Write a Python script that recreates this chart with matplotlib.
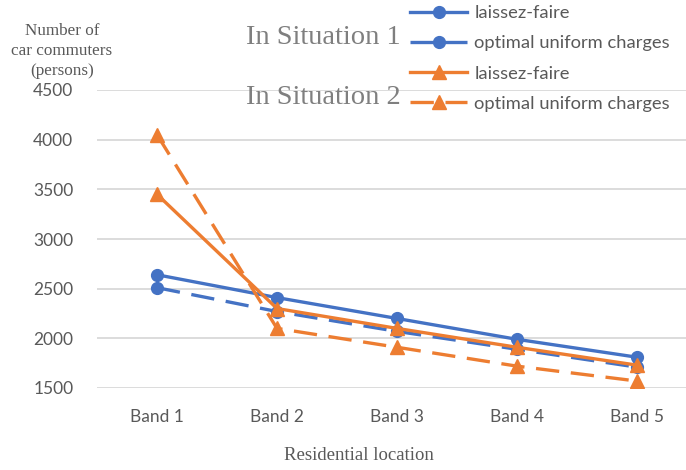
import matplotlib
matplotlib.use("Agg")
import matplotlib.pyplot as plt

# car commuters per residential band
bands = ["Band 1", "Band 2", "Band 3", "Band 4", "Band 5"]
s1_laissez = [2640, 2410, 2200, 1990, 1810]
s1_optimal = [2510, 2270, 2070, 1890, 1710]
s2_laissez = [3450, 2300, 2100, 1910, 1730]
s2_optimal = [4050, 2100, 1910, 1720, 1570]
yticks = [1500, 2000, 2500, 3000, 3500, 4000, 4500]

blue = "#4472C4"
orange = "#ED7D31"
sans = "Lato"
serif = "Liberation Serif"

fig = plt.figure(figsize=(6.86, 4.70), dpi=100)
ax = fig.add_axes([97 / 686, 1 - 388 / 470, 600 / 686, 298 / 470])

x = list(range(len(bands)))
lw = 2.4
dash = (0, (7, 3.5))
ax.plot(x, s1_laissez, color=blue, lw=lw, marker="o", ms=8.5, label="laissez-faire")
ax.plot(x, s1_optimal, color=blue, lw=lw, ls=dash, marker="o", ms=8.5,
        label="optimal uniform charges")
ax.plot(x, s2_laissez, color=orange, lw=lw, marker="^", ms=9.5, label="laissez-faire")
ax.plot(x, s2_optimal, color=orange, lw=lw, ls=dash, marker="^", ms=9.5,
        label="optimal uniform charges")

ax.set_xlim(-0.5, len(bands) - 0.5)
ax.set_ylim(1500, 4500)
ax.set_yticks(yticks)
ax.set_xticks(x)
ax.set_xticklabels(bands)
ax.grid(axis="y", color="#d9d9d9", lw=1.3)
ax.set_axisbelow(True)
for s in ax.spines.values():
    s.set_visible(False)
ax.tick_params(length=0, labelsize=12.5, labelcolor="#595959")
ax.tick_params(axis="y", pad=17)
ax.tick_params(axis="x", pad=15)
for t in ax.get_xticklabels() + ax.get_yticklabels():
    t.set_fontfamily(sans)

fig.text(62 / 686, 1 - 51 / 470, "Number of\ncar commuters\n(persons)", ha="center",
         va="center", family=serif, fontsize=12.3, color="#595959", linespacing=1.3)
fig.text(359 / 686, 1 - 456 / 470, "Residential location", ha="center", va="center",
         family=serif, fontsize=13.5, color="#595959")
fig.text(401 / 686, 1 - 38 / 470, "In Situation 1", ha="right", va="center",
         family=serif, fontsize=20.5, color="#7f7f7f")
fig.text(401 / 686, 1 - 98 / 470, "In Situation 2", ha="right", va="center",
         family=serif, fontsize=20.5, color="#7f7f7f")

leg = fig.legend(loc="upper left", bbox_to_anchor=(403 / 686, 1.005), frameon=False,
                 prop={"family": sans, "size": 13.2}, labelcolor="#595959",
                 handlelength=3.1, handletextpad=0.4, labelspacing=0.78, numpoints=1,
                 borderaxespad=0.0)

fig.savefig("out.png", dpi=100)
